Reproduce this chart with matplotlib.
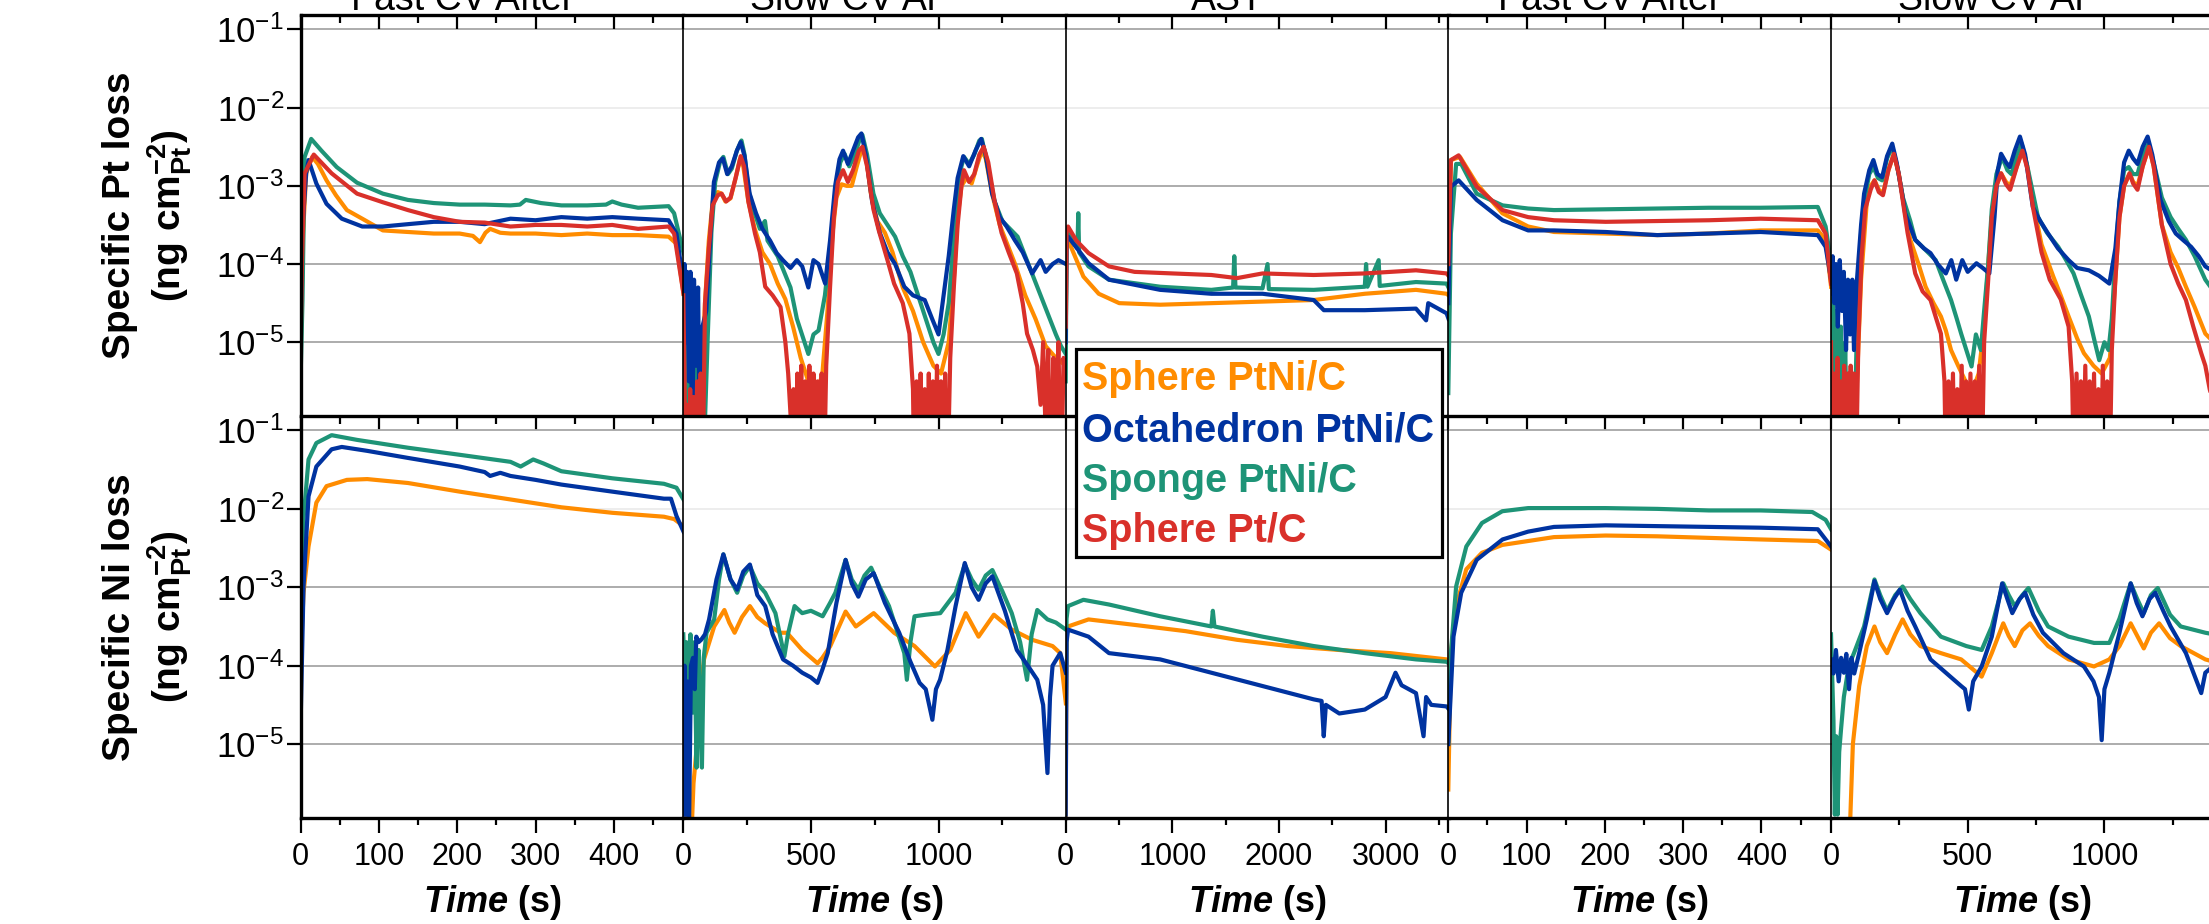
import matplotlib
matplotlib.use('Agg')
import matplotlib.pyplot as plt
from matplotlib.patches import Rectangle
from matplotlib.ticker import FixedLocator, NullLocator, NullFormatter

plt.rcParams['font.family'] = ['Liberation Sans', 'DejaVu Sans']
plt.rcParams['mathtext.fontset'] = 'custom'
plt.rcParams['mathtext.rm'] = 'Liberation Sans'
plt.rcParams['mathtext.it'] = 'Liberation Sans:italic'
plt.rcParams['mathtext.bf'] = 'Liberation Sans:bold'
plt.rcParams['mathtext.bfit'] = 'Liberation Sans:bold:italic'

# ---------------- data: (time s, log10 of specific loss) ----------------
series_names = ["Sphere PtNi/C", "Octahedron PtNi/C", "Sponge PtNi/C", "Sphere Pt/C"]
panel_titles = ["Fast CV After", "Slow CV Ar", "AST", "Fast CV After", "Slow CV Ar"]
panel_xlim = [489, 1500, 3590, 489, 1400]
panel_major = [[0, 100, 200, 300, 400], [0, 500, 1000], [0, 1000, 2000, 3000],
               [0, 100, 200, 300, 400], [0, 500, 1000]]
panel_minor = [[50, 150, 250, 350, 450], [250, 750, 1250], [500, 1500, 2500, 3500],
               [50, 150, 250, 350, 450], [250, 750, 1250]]
y_decades = [-1, -2, -3, -4, -5]

# Panel 1: Fast CV (Pt)
fast1_pt_orange = [(0,-5.1),(3,-3.61),(7,-2.84),(14.7,-2.63),(22,-2.72),(33,-2.93),(45,-3.12),(59,-3.31),
                   (78.6,-3.42),(105,-3.57),(137,-3.59),(170,-3.61),(203,-3.61),(220,-3.64),(229,-3.72),
                   (236,-3.6),(242,-3.55),(255,-3.6),(268,-3.61),(300,-3.61),(333,-3.63),(366,-3.61),
                   (398,-3.63),(431,-3.63),(470,-3.65),(480,-3.74),(489,-4.38)]
fast1_pt_green = [(0,-5.4),(2.3,-4.46),(5,-2.63),(13.4,-2.40),(26.5,-2.55),(46,-2.76),(72,-2.96),(105,-3.10),
                  (137,-3.18),(170,-3.22),(203,-3.24),(235,-3.24),(268,-3.25),(280,-3.24),(287.5,-3.18),
                  (307,-3.22),(333,-3.25),(366,-3.25),(390,-3.24),(398,-3.20),(410,-3.24),(431,-3.28),
                  (470,-3.26),(477,-3.35),(489,-3.86)]
fast1_pt_blue = [(0,-4.8),(1.7,-3.61),(7,-2.84),(10,-2.67),(20,-2.97),(33,-3.23),(52.5,-3.42),(78.6,-3.52),
                 (105,-3.52),(137,-3.49),(170,-3.46),(203,-3.46),(235,-3.49),(268,-3.42),(300,-3.44),
                 (333,-3.40),(366,-3.42),(398,-3.40),(431,-3.42),(470,-3.44),(480,-3.61),(489,-4.25)]
fast1_pt_red = [(0,-5.0),(1.7,-3.95),(5,-2.84),(16.7,-2.60),(39.5,-2.84),(72,-3.10),(105,-3.21),(137,-3.31),
                (170,-3.40),(203,-3.46),(235,-3.47),(268,-3.52),(300,-3.50),(333,-3.50),(366,-3.52),
                (398,-3.50),(431,-3.55),(470,-3.52),(477,-3.61),(489,-4.38)]

# Panel 2: Slow CV (Pt)
slow1_pt_orange = [(0,-4.4),(8,-5.2),(15,-7),(60,-7),(70,-5.6),(85,-4.5),(100,-3.7),(115,-3.2),(135,-3.08),
                   (150,-3.1),(165,-3.2),(185,-3.16),(205,-2.9),(222,-2.66),(235,-2.75),(255,-3.2),(280,-3.55),
                   (310,-3.85),(340,-4.0),(370,-4.25),(400,-4.45),(430,-4.8),(460,-5.2),(490,-5.5),(520,-5.7),
                   (545,-5.4),(565,-4.6),(585,-3.6),(600,-3.15),(620,-2.98),(640,-3.0),(660,-3.0),(680,-2.75),
                   (700,-2.52),(715,-2.6),(735,-3.1),(760,-3.45),(790,-3.6),(820,-3.85),(860,-4.3),(900,-4.6),
                   (940,-5.0),(980,-5.3),(1010,-5.4),(1040,-5.0),(1060,-4.2),(1075,-3.4),(1090,-3.0),
                   (1110,-2.9),(1130,-2.97),(1150,-2.75),(1170,-2.55),(1185,-2.65),(1210,-3.1),(1240,-3.5),
                   (1270,-3.75),(1300,-4.0),(1340,-4.4),(1380,-4.7),(1420,-5.05),(1460,-5.2),(1499,-5.3)]
slow1_pt_green = [(0,-4.2),(5,-4.6),(10,-5.5),(14,-4.3),(18,-6.2),(24,-4.8),(30,-7),(38,-5.0),(45,-7),(52,-5.3),
                  (60,-7),(70,-5.6),(80,-6.5),(95,-5.0),(110,-3.6),(125,-2.95),(145,-2.68),(157,-2.63),
                  (175,-2.85),(190,-2.78),(210,-2.55),(228,-2.42),(240,-2.6),(255,-3.05),(275,-3.3),(300,-3.55),
                  (320,-3.45),(330,-3.7),(350,-3.8),(370,-3.9),(395,-4.1),(420,-4.3),(445,-4.7),(470,-4.95),
                  (490,-5.15),(510,-4.9),(530,-4.85),(555,-4.4),(575,-3.8),(595,-3.1),(615,-2.7),(632,-2.59),
                  (650,-2.75),(670,-2.62),(690,-2.42),(702,-2.35),(720,-2.6),(745,-3.1),(770,-3.35),(800,-3.5),
                  (830,-3.65),(860,-3.9),(890,-4.1),(920,-4.4),(950,-4.7),(980,-5.0),(1000,-5.15),(1020,-4.9),
                  (1040,-4.5),(1060,-3.7),(1075,-3.1),(1090,-2.75),(1100,-2.63),(1120,-2.72),(1140,-2.6),
                  (1160,-2.42),(1170,-2.4),(1190,-2.7),(1220,-3.2),(1250,-3.45),(1280,-3.55),(1310,-3.65),
                  (1340,-3.9),(1370,-4.15),(1400,-4.4),(1430,-4.65),(1460,-4.9),(1480,-5.05),(1499,-5.15)]
slow1_pt_blue = [(0,-4.2),(5,-4.0),(10,-5.0),(15,-4.1),(22,-5.5),(28,-4.1),(35,-6.5),(42,-4.2),(50,-5.3),
                 (58,-4.3),(66,-7),(75,-4.8),(90,-4.6),(105,-3.7),(120,-2.95),(140,-2.7),(155,-2.65),(172,-2.85),
                 (190,-2.75),(210,-2.55),(225,-2.44),(240,-2.62),(260,-3.1),(285,-3.35),(310,-3.55),(340,-3.7),
                 (366,-3.86),(390,-3.95),(420,-4.05),(445,-3.95),(466,-4.03),(490,-4.3),(510,-3.95),
                 (530,-4.0),(556,-4.25),(575,-3.7),(595,-3.0),(612,-2.66),(626,-2.55),(645,-2.72),(665,-2.55),
                 (685,-2.38),(698,-2.33),(715,-2.6),(740,-3.2),(770,-3.6),(800,-3.85),(830,-4.0),(866,-4.29),
                 (900,-4.4),(946,-4.46),(975,-4.7),(1000,-4.9),(1020,-4.4),(1040,-3.9),(1060,-3.3),
                 (1075,-2.9),(1097,-2.62),(1120,-2.75),(1145,-2.55),(1167,-2.4),(1185,-2.6),(1210,-3.1),
                 (1240,-3.4),(1267,-3.52),(1300,-3.7),(1330,-3.85),(1367,-4.12),(1400,-3.95),(1420,-4.1),
                 (1447,-4.0),(1470,-3.95),(1499,-4.0)]
slow1_pt_red = [(0,-4.4),(5,-5.5),(8,-7),(14,-5.8),(20,-7),(27,-5.6),(33,-7),(40,-5.7),(47,-7),(54,-5.5),
                (61,-7),(68,-5.4),(75,-7),(85,-4.5),(100,-3.8),(115,-3.25),(135,-3.12),(150,-3.1),(168,-3.2),
                (185,-3.15),(205,-2.9),(225,-2.62),(238,-2.75),(255,-3.2),(281,-3.61),(300,-3.85),(321,-4.29),
                (350,-4.4),(381,-4.55),(400,-5.0),(411,-5.4),(425,-6.2),(432,-5.6),(440,-7),(447,-5.4),
                (455,-7),(462,-5.3),(470,-7),(478,-5.5),(486,-7),(494,-5.3),(502,-7),(510,-5.4),(518,-7),
                (526,-5.5),(534,-7),(542,-5.4),(550,-7),(560,-5.3),(575,-4.3),(590,-3.4),(606,-2.95),
                (626,-2.8),(645,-2.95),(665,-2.8),(688,-2.55),(702,-2.5),(720,-2.75),(745,-3.3),(766,-3.57),
                (800,-3.95),(826,-4.25),(860,-4.5),(886,-4.89),(900,-5.6),(906,-7),(914,-5.5),(922,-7),
                (930,-5.4),(938,-7),(946,-5.6),(954,-7),(962,-5.4),(970,-7),(978,-5.5),(986,-7),(994,-5.3),
                (1002,-7),(1010,-5.5),(1018,-7),(1026,-5.4),(1034,-7),(1046,-5.2),(1060,-4.3),(1075,-3.5),
                (1090,-3.0),(1100,-2.8),(1120,-2.95),(1140,-2.85),(1160,-2.6),(1177,-2.5),(1195,-2.7),
                (1220,-3.2),(1247,-3.6),(1275,-3.85),(1307,-4.12),(1330,-4.5),(1347,-4.89),(1370,-5.1),
                (1387,-5.31),(1400,-5.8),(1410,-5.0),(1420,-6.2),(1430,-5.1),(1440,-7),(1450,-5.2),
                (1460,-6.0),(1470,-5.0),(1480,-7),(1490,-5.2),(1499,-5.5)]

# Panel 3: AST (Pt)
ast_pt_orange = [(0,-5.0),(8,-3.75),(22,-3.69),(166,-4.16),(310,-4.38),(502,-4.50),(886,-4.52),(1366,-4.50),
                 (1846,-4.48),(2326,-4.46),(2805,-4.38),(3285,-4.33),(3572,-4.38),(3590,-4.4)]
ast_pt_green = [(0,-5.5),(8,-3.7),(22,-3.61),(110,-3.8),(118,-3.35),(126,-3.85),(214,-4.03),(406,-4.20),
                (886,-4.29),(1366,-4.33),(1570,-4.3),(1581,-3.9),(1592,-4.3),(1846,-4.31),(1893,-4.0),
                (1905,-4.32),(2326,-4.33),(2805,-4.29),(2817,-4.0),(2830,-4.29),(2935,-3.95),(2945,-4.28),
                (3285,-4.23),(3572,-4.25),(3590,-4.3)]
ast_pt_blue = [(0,-5.0),(8,-3.7),(22,-3.65),(214,-3.99),(406,-4.20),(886,-4.33),(1366,-4.38),(1846,-4.38),
               (2326,-4.46),(2421,-4.59),(2805,-4.59),(3285,-4.57),(3380,-4.72),(3400,-4.5),(3572,-4.63),
               (3590,-4.7)]
ast_pt_red = [(0,-4.8),(8,-3.6),(22,-3.52),(100,-3.7),(214,-3.86),(406,-4.03),(646,-4.10),(1000,-4.12),
              (1366,-4.14),(1606,-4.18),(1846,-4.12),(2326,-4.14),(2805,-4.12),(3285,-4.08),(3572,-4.12),
              (3590,-4.15)]

# Panel 4: Fast CV (Pt), second
fast2_pt_orange = [(0,-4.5),(3.3,-2.67),(15,-2.63),(36,-2.97),(69,-3.35),(102,-3.52),(135,-3.59),(201,-3.61),
                   (267,-3.63),(333,-3.61),(399,-3.57),(472,-3.57),(482,-3.69),(489,-4.29)]
fast2_pt_green = [(0,-5.65),(3.3,-3.61),(10,-2.72),(16.5,-2.72),(36.3,-3.10),(69.3,-3.25),(102,-3.29),
                  (135,-3.31),(201,-3.30),(267,-3.29),(333,-3.28),(399,-3.28),(472,-3.27),(482,-3.52),(489,-3.99)]
fast2_pt_blue = [(0,-4.5),(3.3,-3.01),(13.2,-2.93),(36.3,-3.18),(69.3,-3.44),(102,-3.57),(135,-3.57),
                 (201,-3.59),(267,-3.63),(333,-3.61),(399,-3.59),(472,-3.63),(482,-3.78),(489,-4.20)]
fast2_pt_red = [(0,-4.0),(3.3,-2.67),(13.2,-2.61),(36.3,-3.01),(69.3,-3.31),(102,-3.40),(135,-3.44),
                (201,-3.46),(267,-3.45),(333,-3.44),(399,-3.42),(472,-3.44),(482,-3.61),(489,-4.25)]

# Panel 5: Slow CV (Pt), second
slow2_pt_orange = [(0,-5.5),(10,-7),(80,-7),(95,-5.5),(110,-4.2),(131,-3.2),(145,-3.0),(159,-2.93),(175,-3.05),
                   (190,-3.1),(210,-2.8),(230,-2.59),(248,-2.85),(270,-3.3),(290,-3.69),(320,-4.0),(346,-4.29),
                   (375,-4.5),(402,-4.67),(420,-4.85),(439,-5.1),(465,-5.3),(495,-5.52),(520,-5.6),(540,-5.4),
                   (560,-4.8),(575,-4.0),(588,-3.4),(605,-3.0),(622,-2.84),(640,-2.95),(655,-3.0),(680,-2.75),
                   (700,-2.55),(718,-2.75),(738,-3.2),(770,-3.75),(813,-4.16),(840,-4.4),(869,-4.67),
                   (900,-4.95),(925,-5.14),(960,-5.3),(990,-5.4),(1020,-5.2),(1040,-4.2),(1055,-3.4),
                   (1072,-3.0),(1092,-2.84),(1105,-2.95),(1121,-3.0),(1140,-2.75),(1163,-2.5),(1180,-2.75),
                   (1210,-3.5),(1242,-3.85),(1270,-4.05),(1298,-4.29),(1330,-4.55),(1369,-4.89),(1400,-5.0)]
slow2_pt_green = [(0,-5.2),(8,-4.4),(14,-6.0),(20,-4.6),(28,-7),(36,-4.8),(44,-6.5),(52,-5.0),(60,-7),(70,-5.5),
                  (80,-7),(95,-4.8),(110,-3.6),(121,-3.2),(140,-2.85),(155,-2.76),(172,-2.9),(187,-2.93),
                  (205,-2.65),(224,-2.5),(242,-2.75),(263,-3.15),(290,-3.45),(308,-3.69),(340,-3.8),(383,-3.95),
                  (410,-4.2),(439,-4.46),(460,-4.7),(476,-4.89),(495,-5.1),(514,-5.31),(530,-4.9),(548,-5.1),
                  (560,-4.6),(575,-4.0),(588,-3.3),(605,-2.85),(626,-2.63),(645,-2.8),(660,-2.85),(680,-2.6),
                  (697,-2.46),(715,-2.7),(757,-3.4),(790,-3.6),(831,-3.78),(860,-3.95),(887,-4.12),(915,-4.4),
                  (943,-4.67),(965,-5.0),(981,-5.23),(1000,-5.0),(1015,-5.1),(1027,-4.7),(1040,-3.9),
                  (1055,-3.2),(1072,-2.8),(1089,-2.76),(1105,-2.85),(1121,-2.85),(1140,-2.6),(1161,-2.46),
                  (1180,-2.7),(1210,-3.15),(1242,-3.4),(1270,-3.55),(1298,-3.69),(1330,-3.9),(1369,-4.2),
                  (1400,-4.35)]
slow2_pt_blue = [(0,-4.38),(6,-3.9),(12,-4.5),(18,-4.0),(25,-4.8),(32,-3.95),(40,-4.6),(47,-4.1),(55,-5.1),
                 (62,-4.2),(70,-4.9),(78,-4.2),(84,-5.1),(95,-4.2),(110,-3.5),(121,-3.1),(140,-2.8),(155,-2.67),
                 (170,-2.85),(187,-2.89),(205,-2.62),(224,-2.46),(240,-2.7),(260,-3.1),(271,-3.35),(308,-3.69),
                 (340,-3.8),(364,-3.86),(390,-4.0),(420,-4.12),(440,-3.95),(458,-4.2),(480,-3.95),(500,-4.1),
                 (532,-3.99),(555,-4.05),(579,-4.12),(598,-3.4),(610,-2.8),(622,-2.59),(640,-2.7),(654,-2.76),
                 (672,-2.55),(691,-2.37),(710,-2.6),(738,-3.27),(765,-3.45),(794,-3.61),(830,-3.8),(869,-3.95),
                 (900,-4.05),(943,-4.08),(980,-4.15),(1018,-4.25),(1040,-3.8),(1055,-3.2),(1072,-2.7),
                 (1089,-2.55),(1105,-2.65),(1121,-2.72),(1140,-2.5),(1158,-2.37),(1175,-2.6),(1205,-3.18),
                 (1235,-3.45),(1261,-3.61),(1290,-3.7),(1317,-3.78),(1345,-3.9),(1369,-4.03),(1400,-4.1)]
slow2_pt_red = [(0,-5.0),(6,-7),(12,-5.4),(18,-7),(24,-5.2),(30,-7),(36,-5.5),(42,-7),(48,-5.3),(54,-7),
                (60,-5.4),(66,-7),(72,-5.3),(78,-7),(84,-5.4),(90,-7),(100,-5.0),(112,-3.9),(125,-3.3),
                (145,-3.05),(159,-2.93),(175,-3.08),(190,-3.12),(210,-2.8),(230,-2.59),(248,-2.85),(280,-3.6),
                (308,-4.12),(335,-4.35),(364,-4.46),(385,-4.7),(402,-4.89),(415,-5.5),(422,-7),(430,-5.5),
                (438,-7),(446,-5.4),(454,-7),(462,-5.6),(470,-7),(478,-5.3),(486,-7),(494,-5.5),(502,-7),
                (510,-5.4),(518,-7),(526,-5.5),(534,-7),(542,-5.3),(550,-7),(560,-5.0),(575,-4.2),(588,-3.4),
                (605,-3.0),(622,-2.84),(640,-2.98),(655,-3.05),(680,-2.75),(700,-2.55),(718,-2.78),
                (740,-3.3),(770,-3.85),(800,-4.2),(840,-4.45),(869,-4.8),(882,-5.5),(890,-7),(898,-5.4),
                (906,-7),(914,-5.5),(922,-7),(930,-5.3),(938,-7),(946,-5.5),(954,-7),(962,-5.4),(970,-7),
                (978,-5.6),(986,-7),(994,-5.3),(1002,-7),(1010,-5.5),(1018,-7),(1027,-5.1),(1040,-4.2),
                (1055,-3.4),(1072,-3.0),(1092,-2.84),(1105,-2.97),(1121,-3.05),(1140,-2.75),(1163,-2.5),
                (1180,-2.75),(1210,-3.5),(1242,-4.0),(1270,-4.25),(1298,-4.46),(1325,-4.8),(1354,-5.14),
                (1369,-5.3),(1385,-5.6),(1400,-5.8)]

# Ni panels
fast1_ni_orange = [(0,-3.92),(3.6,-3.07),(10,-2.48),(20,-1.92),(33,-1.71),(59,-1.63),(85,-1.62),(137,-1.67),
                   (203,-1.78),(268,-1.88),(333,-1.98),(398,-2.05),(464,-2.10),(477,-2.13),(489,-2.22)]
fast1_ni_green = [(0,-3.5),(3.6,-2.13),(10,-1.37),(20,-1.16),(39.5,-1.06),(72,-1.12),(137,-1.22),(203,-1.31),
                  (268,-1.40),(281,-1.46),(297,-1.37),(310,-1.42),(333,-1.52),(398,-1.61),(464,-1.68),
                  (480,-1.73),(489,-1.88)]
fast1_ni_blue = [(0,-4.69),(3.6,-2.99),(10,-1.84),(20,-1.46),(39.5,-1.24),(52.5,-1.21),(85,-1.26),(137,-1.35),
                 (203,-1.46),(235,-1.53),(242,-1.58),(255,-1.54),(268,-1.58),(300,-1.63),(333,-1.69),
                 (398,-1.78),(464,-1.87),(473,-1.87),(480,-2.09),(489,-2.29)]

slow1_ni_orange = [(0,-4.5),(10,-5.8),(22,-7),(40,-5.5),(51,-5.1),(65,-4.4),(81,-3.92),(121,-3.50),(161,-3.29),
                   (180,-3.45),(201,-3.58),(230,-3.38),(261,-3.24),(290,-3.38),(321,-3.46),(381,-3.58),
                   (406,-3.58),(466,-3.80),(526,-3.97),(545,-3.9),(576,-3.75),(636,-3.31),(676,-3.50),
                   (746,-3.33),(826,-3.58),(906,-3.75),(986,-4.01),(1046,-3.80),(1107,-3.33),(1157,-3.63),
                   (1217,-3.35),(1287,-3.54),(1367,-3.67),(1447,-3.75),(1477,-3.84),(1499,-4.48)]
slow1_ni_green = [(0,-3.6),(6,-4.2),(12,-3.7),(20,-5.2),(28,-3.6),(36,-4.6),(44,-3.7),(52,-5.3),(60,-3.8),
                  (68,-4.9),(73,-5.3),(80,-3.9),(91,-3.58),(121,-3.41),(140,-2.9),(157,-2.58),(185,-2.9),
                  (211,-3.07),(235,-2.85),(261,-2.73),(290,-2.95),(321,-3.07),(361,-3.33),(396,-3.88),
                  (410,-3.6),(436,-3.24),(466,-3.33),(500,-3.3),(546,-3.37),(575,-3.2),(596,-3.07),(636,-2.65),
                  (660,-2.9),(686,-3.03),(710,-2.85),(736,-2.75),(770,-3.0),(806,-3.24),(866,-3.84),
                  (876,-4.18),(890,-3.7),(906,-3.37),(950,-3.35),(1007,-3.33),(1067,-3.07),(1103,-2.71),
                  (1130,-2.9),(1157,-3.03),(1185,-2.85),(1211,-2.78),(1250,-3.05),(1287,-3.33),(1320,-3.7),
                  (1347,-4.18),(1365,-3.6),(1387,-3.29),(1427,-3.41),(1460,-3.45),(1499,-3.54)]
slow1_ni_blue = [(0,-5.9),(5,-4.0),(10,-5.9),(16,-4.2),(22,-6.2),(30,-4.0),(38,-3.9),(45,-4.3),(51,-3.63),
                 (60,-3.7),(70,-3.67),(85,-3.6),(101,-3.41),(130,-2.9),(157,-2.58),(185,-2.9),(211,-3.03),
                 (235,-2.8),(261,-2.71),(290,-3.1),(321,-3.24),(350,-3.6),(391,-3.92),(430,-4.0),(466,-4.09),
                 (500,-4.15),(526,-4.22),(545,-4.05),(566,-3.84),(600,-3.2),(636,-2.65),(660,-2.95),
                 (686,-3.12),(715,-2.9),(746,-2.82),(790,-3.2),(846,-3.58),(890,-3.95),(926,-4.22),
                 (950,-4.3),(976,-4.69),(990,-4.3),(1006,-4.18),(1035,-3.8),(1067,-3.24),(1103,-2.69),
                 (1130,-3.0),(1157,-3.16),(1185,-2.95),(1211,-2.86),(1260,-3.3),(1307,-3.80),(1350,-4.0),
                 (1387,-4.18),(1410,-4.5),(1427,-5.37),(1437,-4.4),(1447,-4.0),(1477,-3.84),(1499,-4.09)]

ast_ni_orange = [(0,-6.0),(8,-3.6),(22,-3.50),(214,-3.41),(646,-3.48),(1126,-3.56),(1606,-3.67),(2086,-3.75),
                 (2566,-3.80),(3045,-3.84),(3572,-3.92),(3590,-3.95)]
ast_ni_green = [(0,-5.0),(8,-3.4),(22,-3.24),(166,-3.16),(406,-3.22),(886,-3.37),(1366,-3.50),(1380,-3.3),
                (1395,-3.5),(1846,-3.63),(2326,-3.75),(2805,-3.84),(3285,-3.92),(3572,-3.95),(3590,-3.97)]
ast_ni_blue = [(0,-5.9),(8,-3.7),(22,-3.54),(214,-3.63),(406,-3.84),(886,-3.92),(1366,-4.09),(1846,-4.26),
               (2326,-4.43),(2400,-4.45),(2420,-4.9),(2440,-4.5),(2566,-4.61),(2805,-4.56),(3000,-4.4),
               (3093,-4.09),(3150,-4.25),(3285,-4.35),(3356,-4.90),(3380,-4.4),(3428,-4.5),(3572,-4.52),
               (3590,-4.55)]

fast2_ni_orange = [(0,-5.58),(3.3,-3.84),(10,-3.24),(23,-2.77),(43,-2.56),(69,-2.46),(135,-2.36),(201,-2.34),
                   (267,-2.35),(333,-2.37),(399,-2.39),(472,-2.41),(489,-2.52)]
fast2_ni_green = [(0,-4.99),(3.3,-3.84),(10,-2.99),(23,-2.48),(43,-2.18),(69,-2.03),(102,-1.99),(135,-1.99),
                  (201,-1.99),(267,-2.00),(333,-2.02),(399,-2.02),(465,-2.04),(482,-2.14),(489,-2.26)]
fast2_ni_blue = [(0,-5.0),(6.6,-3.63),(16.5,-3.07),(36.3,-2.65),(69.3,-2.39),(102,-2.29),(135,-2.23),
                 (201,-2.21),(267,-2.22),(333,-2.23),(399,-2.24),(472,-2.26),(489,-2.48)]

slow2_ni_orange = [(60,-7),(80,-5.0),(103,-4.26),(131,-3.75),(159,-3.50),(180,-3.7),(205,-3.84),(235,-3.6),
                   (262,-3.41),(290,-3.6),(327,-3.75),(402,-3.84),(476,-3.92),(551,-4.14),(588,-3.84),
                   (630,-3.46),(650,-3.62),(672,-3.75),(700,-3.55),(728,-3.46),(760,-3.62),(794,-3.75),
                   (869,-3.92),(962,-4.01),(1018,-3.92),(1055,-3.75),(1096,-3.46),(1120,-3.62),(1144,-3.78),
                   (1170,-3.58),(1200,-3.46),(1240,-3.65),(1279,-3.75),(1369,-3.92),(1400,-3.95)]
slow2_ni_green = [(0,-3.6),(9,-4.7),(14,-5.9),(19,-4.9),(24,-5.9),(30,-5.1),(37,-4.8),(47,-4.4),(65,-4.0),
                  (84,-3.84),(121,-3.5),(159,-2.90),(180,-3.1),(205,-3.3),(235,-3.1),(262,-2.99),(290,-3.15),
                  (327,-3.33),(402,-3.63),(495,-3.75),(551,-3.80),(588,-3.5),(630,-2.95),(650,-3.1),
                  (672,-3.24),(700,-3.1),(722,-3.01),(760,-3.3),(794,-3.50),(869,-3.63),(962,-3.71),
                  (1018,-3.71),(1055,-3.4),(1096,-2.95),(1120,-3.15),(1144,-3.33),(1170,-3.1),(1195,-3.01),
                  (1240,-3.35),(1279,-3.50),(1369,-3.58),(1400,-3.6)]
slow2_ni_blue = [(0,-3.92),(9,-4.1),(18,-3.8),(28,-4.2),(37,-3.9),(47,-4.09),(56,-3.85),(66,-4.3),(75,-3.9),
                 (85,-4.1),(103,-3.84),(131,-3.41),(159,-2.92),(180,-3.15),(205,-3.33),(230,-3.15),(252,-3.03),
                 (280,-3.3),(308,-3.50),(364,-3.92),(420,-4.09),(476,-4.26),(490,-4.3),(504,-4.56),(520,-4.2),
                 (551,-4.01),(588,-3.63),(626,-2.95),(645,-3.15),(663,-3.33),(690,-3.15),(710,-3.07),
                 (740,-3.35),(775,-3.58),(850,-3.84),(925,-4.01),(960,-4.2),(980,-4.4),(990,-4.95),
                 (1000,-4.3),(1018,-4.09),(1055,-3.58),(1096,-2.95),(1118,-3.2),(1139,-3.37),(1165,-3.15),
                 (1186,-3.07),(1215,-3.3),(1242,-3.50),(1298,-3.84),(1354,-4.35),(1369,-4.09),(1400,-4.0)]

colors = {"orange": "#FF8C00", "blue": "#0033A0", "green": "#1E9477", "red": "#D9302A"}

pt_panels = [
    [("orange", fast1_pt_orange), ("green", fast1_pt_green), ("blue", fast1_pt_blue), ("red", fast1_pt_red)],
    [("orange", slow1_pt_orange), ("green", slow1_pt_green), ("blue", slow1_pt_blue), ("red", slow1_pt_red)],
    [("orange", ast_pt_orange), ("green", ast_pt_green), ("blue", ast_pt_blue), ("red", ast_pt_red)],
    [("orange", fast2_pt_orange), ("green", fast2_pt_green), ("blue", fast2_pt_blue), ("red", fast2_pt_red)],
    [("orange", slow2_pt_orange), ("green", slow2_pt_green), ("blue", slow2_pt_blue), ("red", slow2_pt_red)],
]
ni_panels = [
    [("orange", fast1_ni_orange), ("green", fast1_ni_green), ("blue", fast1_ni_blue)],
    [("orange", slow1_ni_orange), ("green", slow1_ni_green), ("blue", slow1_ni_blue)],
    [("orange", ast_ni_orange), ("green", ast_ni_green), ("blue", ast_ni_blue)],
    [("orange", fast2_ni_orange), ("green", fast2_ni_green), ("blue", fast2_ni_blue)],
    [("orange", slow2_ni_orange), ("green", slow2_ni_green), ("blue", slow2_ni_blue)],
]

# ---------------- layout ----------------
W, H = 2209, 924
fig = plt.figure(figsize=(W / 100, H / 100), dpi=100)

col_left = [300.7, 683.3, 1065.7, 1448.3, 1831.0]
col_w = 382.8
rows = [(15, 416), (416, 818)]
YLIM = (1.14e-6, 0.153)
TICK_FS = 22
THICK = 2.4
THIN = 1.2


def add_panel(col, row):
    yt, yb = rows[row]
    ax = fig.add_axes([col_left[col] / W, 1 - yb / H, col_w / W, (yb - yt) / H])
    ax.set_yscale('log')
    ax.set_ylim(*YLIM)
    ax.set_xlim(0, panel_xlim[col])
    for d in y_decades:
        ax.axhline(10.0 ** d, color='#ececec' if d == -2 else '#a6a6a6', lw=1.3, zorder=0.5)
    ax.spines['right'].set_visible(False)
    ax.spines['left'].set_linewidth(THICK if col == 0 else THIN)
    ax.spines['top'].set_linewidth(THICK)
    ax.spines['bottom'].set_linewidth(THICK)
    if row == 0:
        ax.spines['bottom'].set_visible(False)
    ax.xaxis.set_major_locator(FixedLocator(panel_major[col]))
    ax.xaxis.set_minor_locator(FixedLocator(panel_minor[col]))
    ax.yaxis.set_minor_locator(NullLocator())
    ax.yaxis.set_minor_formatter(NullFormatter())
    if col == 0:
        ax.yaxis.set_major_locator(FixedLocator([10.0 ** d for d in y_decades]))
        ax.set_yticklabels([r'$\mathregular{10^{%d}}$' % d for d in y_decades])
        ax.tick_params(axis='y', which='major', direction='out', left=True, right=False,
                       length=10, width=1.6, labelsize=25, pad=2)
    else:
        ax.yaxis.set_major_locator(NullLocator())
        ax.tick_params(axis='y', which='both', left=False, right=False, labelleft=False)
    if row == 0:
        ax.tick_params(axis='x', which='both', direction='in', top=True, bottom=False,
                       labelbottom=False, labeltop=False)
        ax.tick_params(axis='x', which='major', length=10, width=1.6)
        ax.tick_params(axis='x', which='minor', length=5.5, width=1.6)
    else:
        ax.tick_params(axis='x', which='both', direction='out', top=False, bottom=True,
                       labelbottom=True, labelsize=TICK_FS, pad=7)
        ax.tick_params(axis='x', which='major', length=10.5, width=1.6)
        ax.tick_params(axis='x', which='minor', length=5, width=1.6)
        sec = ax.secondary_xaxis('top')
        sec.xaxis.set_major_locator(FixedLocator(panel_major[col]))
        sec.xaxis.set_minor_locator(FixedLocator(panel_minor[col]))
        sec.tick_params(axis='x', which='both', direction='in', labeltop=False)
        sec.tick_params(axis='x', which='major', length=10, width=1.6)
        sec.tick_params(axis='x', which='minor', length=5.5, width=1.6)
        for sp in sec.spines.values():
            sp.set_visible(False)
    return ax


for col in range(5):
    for row, panels in enumerate([pt_panels, ni_panels]):
        ax = add_panel(col, row)
        for cname, pts in panels[col]:
            ax.plot([p[0] for p in pts], [10.0 ** p[1] for p in pts], color=colors[cname],
                    lw=3.0, solid_joinstyle='round', zorder=2)

# titles (partly above the top edge, as in the reference)
for col in range(5):
    fig.text((col_left[col] + col_w / 2 - 30) / W, 1 - 10 / H, panel_titles[col], ha='center',
             va='baseline', fontsize=27)

# x labels
for col in range(5):
    fig.text((col_left[col] + col_w / 2) / W, 1 - 902 / H, r'$\mathbfit{Time}$ (s)', ha='center',
             va='center', fontsize=26, fontweight='bold')

# y labels
for (yt, yb), elem in zip(rows, ["Pt", "Ni"]):
    yc = 1 - (yt + yb) / 2 / H
    fig.text(120 / W, yc, "Specific %s loss" % elem, rotation=90, ha='center', va='center',
             fontsize=28, fontweight='bold')
    fig.text(170 / W, yc, r'(ng cm$^{\mathbf{-2}}_{\mathbf{Pt}}$)', rotation=90, ha='center',
             va='center', fontsize=28, fontweight='bold')

# legend box
bx0, by0, bx1, by1 = 1076, 349, 1442, 557
fig.patches.append(Rectangle((bx0 / W, 1 - by1 / H), (bx1 - bx0) / W, (by1 - by0) / H,
                             transform=fig.transFigure, facecolor='white', edgecolor='black',
                             lw=2.3, zorder=10))
for name, cname, yb in zip(series_names, ["orange", "blue", "green", "red"], [390, 441, 492, 542]):
    fig.text(1082 / W, 1 - yb / H, name, color=colors[cname], fontsize=28.5, fontweight='bold',
             ha='left', va='baseline', zorder=11)

fig.savefig('out.png', dpi=100)
